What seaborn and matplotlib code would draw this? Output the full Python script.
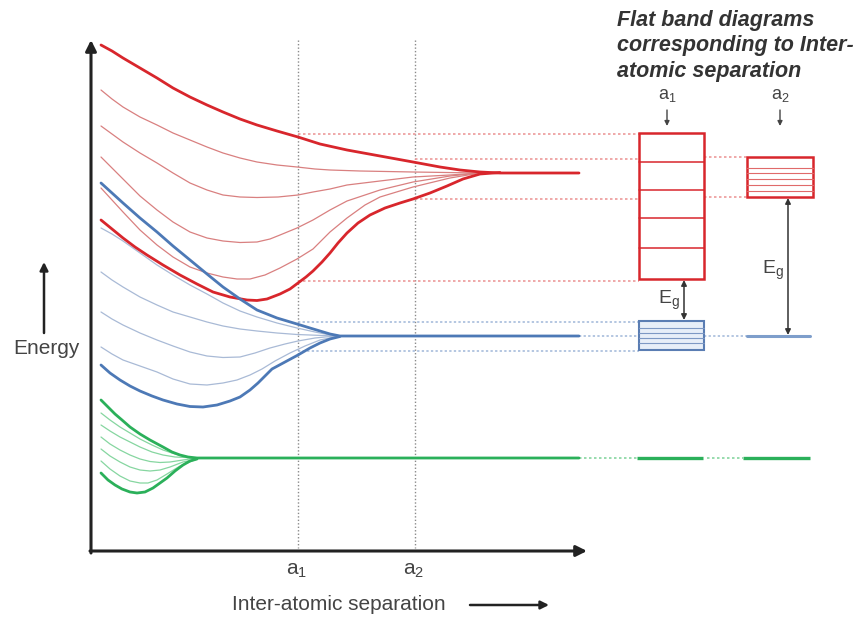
import matplotlib
matplotlib.use("Agg")
import matplotlib.pyplot as plt
import seaborn as sns
import pandas as pd
from matplotlib.patches import Rectangle

sns.set_theme(style="white")
plt.rcParams["font.family"] = ["Liberation Sans", "DejaVu Sans"]
plt.rcParams["mathtext.fontset"] = "custom"
plt.rcParams["mathtext.rm"] = "Liberation Sans"
plt.rcParams["mathtext.it"] = "Liberation Sans"

# ---------------- data (diagram units: x = separation, y = energy, drawn downward) ----
# Conduction (red) band branches
red_x = [
    [101, 112, 123, 140, 157, 173, 190, 207, 223, 240, 257, 277, 298, 320, 347, 380, 413, 440, 460, 480, 500, 579],
    [101, 112, 123, 140, 157, 173, 190, 207, 223, 240, 257, 277, 297, 315, 330, 360, 413, 480],
    [101, 112, 123, 140, 157, 173, 190, 207, 223, 240, 257, 278, 298, 313, 330, 347, 380, 413, 450, 480],
    [101, 112, 123, 140, 157, 173, 190, 207, 223, 240, 257, 270, 280, 297, 313, 330, 347, 380, 413, 450, 480],
    [101, 112, 123, 140, 157, 173, 190, 207, 223, 237, 250, 265, 280, 297, 313, 330, 347, 365, 380, 413, 450, 480],
    [101, 112, 123, 135, 147, 163, 180, 197, 213, 230, 247, 257, 267, 280, 290, 298, 306, 313, 322, 330,
     338, 347, 358, 370, 385, 400, 413, 430, 447, 463, 480, 500],
]
red_y = [
    [45, 51, 58, 68, 78, 88, 97, 105, 112, 119, 125, 131, 137, 144, 150, 156, 162, 167, 170, 172, 173, 173],
    [90, 99, 107, 117, 125, 133, 140, 147, 153, 158, 162, 165, 167, 169, 170, 171, 172, 173],
    [126, 134, 142, 153, 163, 173, 183, 190, 195, 197, 197.5, 197, 195, 192, 189, 185, 181, 177, 175, 173],
    [157, 168, 179, 196, 210, 222, 232, 238, 241, 242.5, 242, 239, 235, 228, 220, 210, 201, 190, 182, 176, 173],
    [188, 200, 212, 230, 245, 257, 267, 273, 277, 279, 279, 275, 268, 259, 249, 232, 218, 205, 197, 187, 178, 173],
    [220, 229, 238, 247, 255, 265, 275, 284, 292, 297, 300, 300.5, 299, 294, 289, 283, 277, 271, 262, 253,
     243, 233, 223, 215, 208, 203, 199, 193, 186, 179, 174, 172.5],
]
red_thick = [True, False, False, False, False, True]

# Valence (blue) band branches
blue_x = [
    [101, 112, 123, 140, 157, 173, 190, 207, 223, 240, 257, 277, 297, 310, 320, 330, 340, 579],
    [101, 112, 123, 140, 157, 173, 190, 207, 223, 240, 257, 277, 297, 315, 335],
    [101, 112, 123, 140, 157, 173, 190, 207, 223, 240, 257, 277, 297, 335],
    [101, 112, 123, 140, 157, 173, 190, 207, 223, 240, 255, 270, 285, 298, 315, 335],
    [101, 112, 123, 140, 157, 173, 190, 207, 223, 237, 250, 262, 275, 290, 305, 320, 335],
    [101, 110, 120, 130, 140, 152, 163, 177, 190, 203, 217, 230, 240, 250, 258, 265, 272, 285, 298,
     310, 320, 330, 340],
]
blue_y = [
    [183, 193, 203, 218, 232, 246, 260, 274, 287, 299, 310, 318, 324, 328, 331, 334, 336, 336],
    [228, 234, 241, 253, 265, 275, 285, 294, 303, 311, 317, 323, 328, 332, 336],
    [272, 280, 287, 297, 305, 312, 317, 322, 326, 329, 331, 333, 334.5, 336],
    [312, 319, 325, 333, 340, 346, 352, 356, 357.5, 357, 353, 348, 344, 341, 338, 336],
    [347, 354, 360, 366, 372, 379, 384, 385, 383, 380, 375, 369, 361, 353, 346, 340, 337],
    [365, 373, 380, 386, 391, 396, 400, 404, 406.5, 407, 405, 401, 397, 390, 383, 376, 369, 362, 355,
     348, 343, 339, 336.5],
]
blue_thick = [True, False, False, False, False, True]

# Core (green) band branches
green_x = [
    [101, 108, 115, 122, 130, 140, 150, 163, 172, 180, 188, 197, 579],
    [101, 110, 120, 130, 140, 152, 163, 175, 186, 197],
    [101, 110, 120, 130, 140, 152, 163, 175, 197],
    [101, 110, 120, 130, 140, 150, 160, 170, 183, 197],
    [101, 110, 120, 130, 140, 150, 160, 170, 183, 197],
    [101, 110, 120, 130, 140, 148, 157, 167, 180, 197],
    [101, 108, 115, 122, 130, 137, 145, 153, 160, 167, 175, 183, 190, 197],
]
green_y = [
    [400, 407, 414, 420, 427, 434, 440, 447, 452, 455, 457, 458, 458],
    [413, 420, 427, 433, 439, 445, 450, 454, 457, 458],
    [425, 431, 437, 442, 447, 452, 455, 457, 458],
    [437, 444, 450, 455, 459, 461.5, 462.5, 462, 460, 458],
    [449, 456, 462, 467, 470, 471, 470, 467, 462, 459],
    [461, 469, 476, 481, 483, 483, 480, 474, 466, 459],
    [473, 480, 485, 489, 492, 493, 492, 488, 483, 478, 471, 465, 461, 459],
]
green_thick = [True, False, False, False, False, False, True]

# separations
sep_labels = ["a$_1$", "a$_2$"]
sep_x = [298, 415]

# flat band boxes (energy levels at a1 / a2)
cond_a1 = [133, 279]          # top, bottom
cond_a1_levels = [162, 190, 218, 248]
cond_a2 = [157, 197]
cond_a2_levels = [168, 173, 179, 185, 191]
val_a1 = [321, 350]
val_a1_levels = [328, 333, 338, 343]
val_a2 = 336
core_level = 458

# ---------------- colours ----------------
RED = "#d8262c"
RED_THIN = "#d98080"
RED_DOT = "#ec9a9a"
BLUE = "#4d79b6"
BLUE_THIN = "#a9bad6"
BLUE_DOT = "#9fb6d8"
GREEN = "#2bb05a"
GREEN_THIN = "#86d6a0"

fig = plt.figure(figsize=(8.59, 6.17), dpi=100)
ax = fig.add_axes([0, 0, 1, 1])
ax.set_xlim(0, 859)
ax.set_ylim(617, 0)
ax.axis("off")


def draw_family(xs, ys, thick, c_thick, c_thin, lw_thick=2.0, lw_thin=0.9):
    for i, (x, y) in enumerate(zip(xs, ys)):
        df = pd.DataFrame({"x": x, "y": y})
        sns.lineplot(data=df, x="x", y="y", ax=ax, sort=False, estimator=None,
                     color=c_thick if thick[i] else c_thin,
                     linewidth=lw_thick if thick[i] else lw_thin,
                     zorder=4 if thick[i] else 3)


# vertical dotted separation markers
for xv in sep_x:
    ax.plot([xv, xv], [40, 548], color="#8a8a8a", lw=1.0, ls=(0, (1, 1.5)), zorder=1)

# horizontal dotted projection lines (red)
box1_l, box1_r = 639, 704
box2_l, box2_r = 747, 813
dot = (0, (1.5, 1.5))
ax.plot([sep_x[0], box1_l], [cond_a1[0] + 1, cond_a1[0] + 1], color=RED_DOT, lw=1.2, ls=dot, zorder=2)
ax.plot([sep_x[0], box1_l], [cond_a1[1] + 2, cond_a1[1] + 2], color=RED_DOT, lw=1.2, ls=dot, zorder=2)
for yv in cond_a2:
    ax.plot([sep_x[1], box1_l], [yv + 2, yv + 2], color=RED_DOT, lw=1.2, ls=dot, zorder=2)
    ax.plot([box1_r, box2_l], [yv, yv], color=RED_DOT, lw=1.2, ls=dot, zorder=2)

# blue dotted projections
for yv in val_a1:
    ax.plot([sep_x[0], box1_l], [yv + 1, yv + 1], color=BLUE_DOT, lw=1.1, ls=dot, zorder=2)
ax.plot([579, box1_l], [val_a2, val_a2], color=BLUE_DOT, lw=1.1, ls=dot, zorder=2)
ax.plot([box1_r, box2_l], [val_a2, val_a2], color=BLUE_DOT, lw=1.1, ls=dot, zorder=2)

# band curves
draw_family(red_x, red_y, red_thick, RED, RED_THIN)
draw_family(blue_x, blue_y, blue_thick, BLUE, BLUE_THIN)
draw_family(green_x, green_y, green_thick, GREEN, GREEN_THIN)

# green continuation
ax.plot([579, 637], [core_level, core_level], color=GREEN_THIN, lw=1.2, ls=dot, zorder=2)
ax.plot([637, 703], [core_level, core_level], color=GREEN, lw=2.4, zorder=3, solid_capstyle="butt")
ax.plot([707, 743], [core_level, core_level], color=GREEN_THIN, lw=1.2, ls=dot, zorder=2)
ax.plot([743, 810], [core_level, core_level], color=GREEN, lw=2.4, zorder=3, solid_capstyle="butt")

# flat band boxes
ax.add_patch(Rectangle((box1_l, cond_a1[0]), box1_r - box1_l, cond_a1[1] - cond_a1[0],
                       fill=False, edgecolor=RED, lw=1.8, zorder=5))
for yv in cond_a1_levels:
    ax.plot([box1_l, box1_r], [yv, yv], color=RED, lw=1.1, zorder=5)
ax.add_patch(Rectangle((box2_l, cond_a2[0]), box2_r - box2_l, cond_a2[1] - cond_a2[0],
                       fill=False, edgecolor=RED, lw=1.8, zorder=5))
for yv in cond_a2_levels:
    ax.plot([box2_l, box2_r], [yv, yv], color="#e06a6a", lw=0.8, zorder=5)
ax.add_patch(Rectangle((box1_l, val_a1[0]), box1_r - box1_l, val_a1[1] - val_a1[0],
                       facecolor="#e7eef8", edgecolor="#5a7db3", lw=1.5, zorder=5))
for yv in val_a1_levels:
    ax.plot([box1_l, box1_r], [yv, yv], color="#7d98c4", lw=0.8, zorder=5)
ax.plot([box2_l, 810], [val_a2, val_a2], color="#7e9ecb", lw=2.2, zorder=5)

# band gap arrows
arr = dict(arrowstyle="<|-|>", color="#333333", lw=1.1, mutation_scale=8, shrinkA=0, shrinkB=0)
ax.annotate("", xy=(684, cond_a1[1] + 1), xytext=(684, val_a1[0] - 1), arrowprops=arr, zorder=6)
ax.annotate("", xy=(788, cond_a2[1] + 1), xytext=(788, val_a2 - 1), arrowprops=arr, zorder=6)
ax.text(680, 300, "E$_g$", fontsize=14, color="#444444", ha="right", va="center")
ax.text(784, 270, "E$_g$", fontsize=14, color="#444444", ha="right", va="center")

# a1/a2 labels above boxes
small = dict(arrowstyle="-|>", color="#444444", lw=1.0, mutation_scale=7, shrinkA=0, shrinkB=0)
for xl, lab in zip([667, 780], sep_labels):
    ax.text(xl, 96, lab, fontsize=13, color="#444444", ha="center", va="center")
    ax.annotate("", xy=(xl, 126), xytext=(xl, 110), arrowprops=small)

# title of the right panel
ax.text(617, 46, "Flat band diagrams\ncorresponding to Inter-\natomic separation",
        fontsize=15.5, fontweight="bold", fontstyle="italic", color="#333333",
        ha="left", va="center", linespacing=1.3)

# main axes arrows
ax.annotate("", xy=(91, 40), xytext=(91, 553),
            arrowprops=dict(arrowstyle="-|>", color="#222222", lw=2.2, mutation_scale=16,
                            shrinkA=0, shrinkB=0))
ax.annotate("", xy=(587, 551), xytext=(90, 551),
            arrowprops=dict(arrowstyle="-|>", color="#222222", lw=2.2, mutation_scale=16,
                            shrinkA=0, shrinkB=0))

# tick labels a1 / a2
for xv, lab in zip(sep_x, sep_labels):
    ax.text(xv - 1, 571, lab, fontsize=15, color="#444444", ha="center", va="center")

# axis titles
ax.text(339, 605, "Inter-atomic separation", fontsize=15, color="#444444", ha="center", va="center")
ax.annotate("", xy=(549, 605), xytext=(470, 605),
            arrowprops=dict(arrowstyle="-|>", color="#222222", lw=1.8, mutation_scale=12,
                            shrinkA=0, shrinkB=0))
ax.text(46, 348, "Energy", fontsize=15, color="#444444", ha="center", va="center")
ax.annotate("", xy=(44, 262), xytext=(44, 333),
            arrowprops=dict(arrowstyle="-|>", color="#222222", lw=1.8, mutation_scale=12,
                            shrinkA=0, shrinkB=0))

fig.savefig("out.png", dpi=100)
